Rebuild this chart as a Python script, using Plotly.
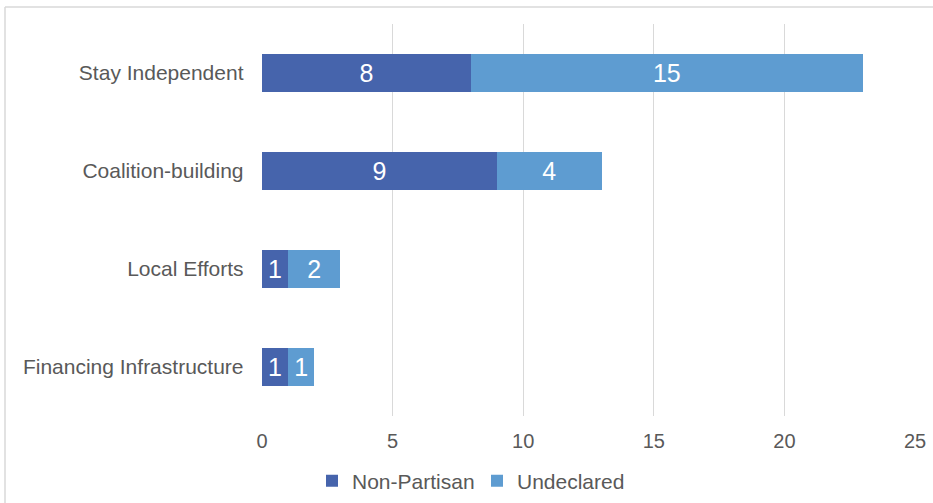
import plotly.graph_objects as go

categories = ["Stay Independent", "Coalition-building", "Local Efforts", "Financing Infrastructure"]
non_partisan = [8, 9, 1, 1]
undeclared = [15, 4, 2, 1]

# plot area in pixels
L, R, T, B = 262, 915, 24, 416
W, H = R - L, B - T


def px_x(p):
    return (p - L) / W


def px_y(p):
    return (B - p) / H


fig = go.Figure()
fig.add_trace(go.Bar(
    y=categories, x=non_partisan, name="Non-Partisan", orientation="h",
    marker=dict(color="#4664AC", line=dict(width=0)), text=non_partisan, textposition="inside",
    insidetextanchor="middle", textfont=dict(color="white", size=25),
))
fig.add_trace(go.Bar(
    y=categories, x=undeclared, name="Undeclared", orientation="h",
    marker=dict(color="#5E9CD1", line=dict(width=0)), text=undeclared, textposition="inside",
    insidetextanchor="middle", textfont=dict(color="white", size=25),
))

fig.update_layout(
    barmode="stack",
    bargap=0.61,
    width=933,
    height=503,
    paper_bgcolor="white",
    plot_bgcolor="white",
    margin=dict(l=L, r=933 - R, t=T, b=503 - B, autoexpand=False),
    font=dict(family="Liberation Sans, Arial, sans-serif", size=20, color="#595959"),
    uniformtext=dict(mode=False),
    legend=dict(
        orientation="h", x=px_x(312), xanchor="left", y=px_y(481), yanchor="middle",
        font=dict(size=21, color="#595959"), traceorder="normal",
        itemwidth=30, entrywidth=120, tracegroupgap=0,
    ),
    shapes=[
        dict(type="line", xref="paper", yref="paper", x0=px_x(5), x1=px_x(960),
             y0=px_y(7), y1=px_y(7), line=dict(color="#D9D9D9", width=1.5)),
        dict(type="line", xref="paper", yref="paper", x0=px_x(5), x1=px_x(5),
             y0=px_y(7), y1=px_y(520), line=dict(color="#D9D9D9", width=1.5)),
    ],
)
fig.update_xaxes(
    range=[0, 25], dtick=5, showgrid=True, gridcolor="#D9D9D9", gridwidth=1,
    zeroline=False, showline=False, ticks="", ticklen=0, automargin=False,
    ticklabelstandoff=11, tickfont=dict(size=20, color="#595959"),
)
fig.update_yaxes(
    autorange="reversed", showgrid=False, showline=False, ticks="",
    ticksuffix="   ", automargin=False, tickfont=dict(size=21, color="#595959"),
)

fig.write_html(
    "out.html",
    config={"displayModeBar": False},
    post_script="document.body.style.margin='0';",
)
